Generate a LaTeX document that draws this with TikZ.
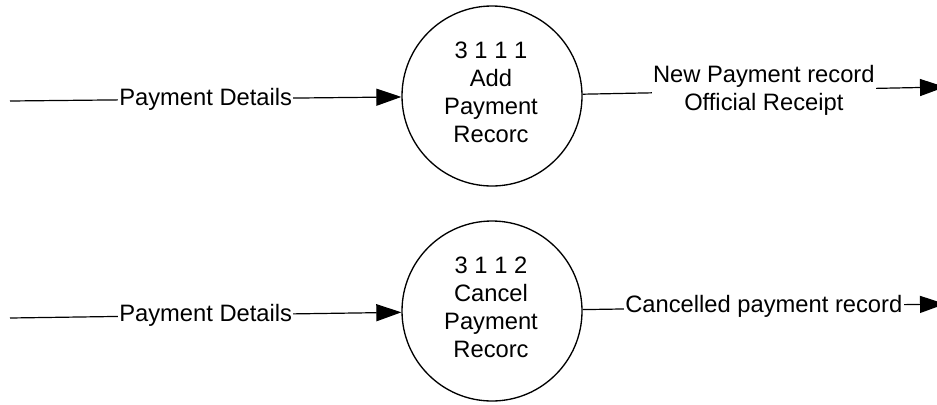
\documentclass[tikz,border=0pt]{standalone}
\usepackage{fontspec}
\setmainfont{Liberation Sans}
\usetikzlibrary{arrows.meta}
\begin{document}
\begin{tikzpicture}[x=0.75pt,y=-0.75pt,
  proc/.style={draw,circle,line width=1pt,minimum size=135pt,inner sep=0pt},
  ptext/.style={align=center,font=\fontsize{17.8}{21}\selectfont,inner sep=0pt},
  flow/.style={line width=0.9pt,-{Triangle[length=18.75pt,width=12.75pt]}},
  lbl/.style={fill=white,inner sep=1pt,align=center,font=\fontsize{17.8}{21}\selectfont}]
\useasboundingbox (0,0) rectangle (937,404);
\clip (0,0) rectangle (937,404);
\node[proc] (c1) at (492,96) {};
\node[ptext] (t1) at (491,92.5) {3 1 1 1\\Add\\Payment\\Recorc};
\node[proc] (c2) at (492,311) {};
\node[ptext] (t2) at (491,307.5) {3 1 1 2\\Cancel\\Payment\\Recorc};
\coordinate (in1) at (10,101);
\coordinate (in2) at (10,318);
\coordinate (out1) at (945,87);
\coordinate (out2) at (945,304);
\draw[flow] (in1) -- node[lbl] (l1) {Payment Details} (c1);
\draw[flow] (in2) -- node[lbl] (l2) {Payment Details} (c2);
\draw[flow] (c1) -- node[lbl] (l3) {New Payment record\\Official Receipt} (out1);
\draw[flow] (c2) -- node[lbl] (l4) {Cancelled payment record} (out2);
\end{tikzpicture}
\end{document}
